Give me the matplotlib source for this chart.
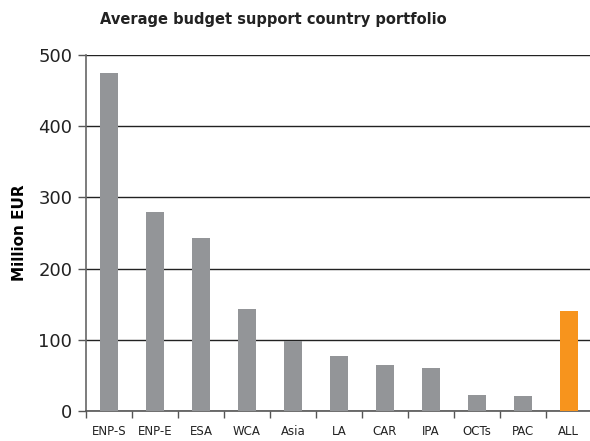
import numpy as np
import matplotlib
matplotlib.use('Agg')
import matplotlib.pyplot as plt

regions = ['ENP-S', 'ENP-E', 'ESA', 'WCA', 'Asia', 'LA', 'CAR', 'IPA', 'OCTs', 'PAC', 'ALL']
avg_budget = [475, 280, 243, 143, 99, 77, 64, 60, 23, 21, 141]
bar_colors = ['#939598'] * 10 + ['#f7941d']

fig = plt.figure(figsize=(5.9, 4.41), dpi=100)
ax = fig.add_axes([0.146, 0.068, 0.857, 0.807])

x = np.arange(len(regions))
ax.bar(x, avg_budget, width=0.38, color=bar_colors, zorder=3)

ax.set_xlim(-0.5, len(regions) - 0.5)
ax.set_ylim(0, 500)
ax.set_yticks(range(0, 501, 100))
ax.yaxis.grid(True, color='#222222', linewidth=1, zorder=0)
ax.set_axisbelow(True)

ax.set_xticks(x)
ax.set_xticklabels(regions, fontsize=8.5, color='#222222')
ax.set_xticks(np.arange(-0.5, len(regions), 1), minor=True)
ax.tick_params(axis='x', which='major', length=0, pad=10)
ax.tick_params(axis='x', which='minor', length=5, width=1, color='#555555')
ax.tick_params(axis='y', labelsize=13, length=6, width=1, color='#555555', labelcolor='#222222', pad=4)

for s in ['top', 'right']:
    ax.spines[s].set_visible(False)
ax.spines['left'].set_color('#666666')
ax.spines['bottom'].set_color('#555555')
ax.spines['left'].set_linewidth(1.2)
ax.spines['bottom'].set_linewidth(1.2)

ax.set_ylabel('Million EUR', fontsize=11, fontweight='bold', labelpad=8)
fig.text(0.17, 0.955, 'Average budget support country portfolio', fontsize=10.5,
         fontweight='bold', color='#222222', va='center', ha='left')

fig.savefig('out.png', dpi=100)
